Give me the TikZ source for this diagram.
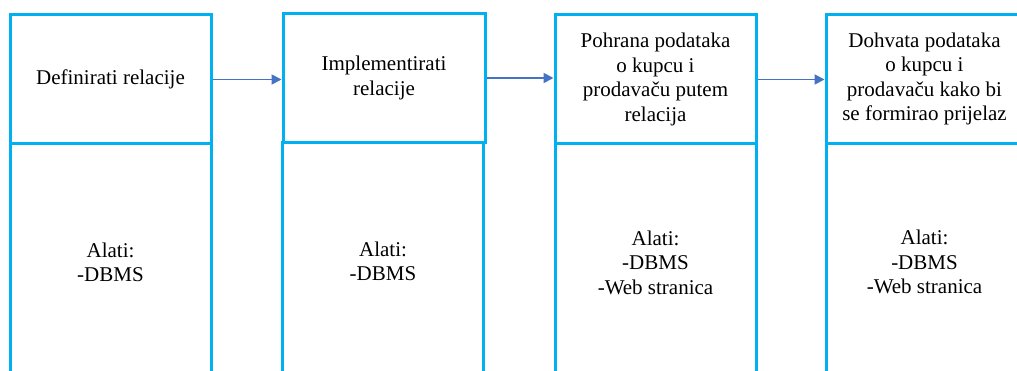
\documentclass[tikz,border=0pt]{standalone}
\usepackage{fontspec}
\setmainfont{Liberation Serif}
\usetikzlibrary{arrows.meta}
\definecolor{boxblue}{HTML}{00B0F0}
\definecolor{arrblue}{HTML}{4472C4}
\begin{document}
\begin{tikzpicture}[x=1pt,y=-1pt,
  topbox/.style={draw=boxblue, line width=3pt, minimum width=201pt, minimum height=129pt, inner sep=0pt, align=center, font=\rmfamily\fontsize{21}{24.5}\selectfont},
  botbox/.style={draw=boxblue, line width=3pt, minimum width=201pt, minimum height=237pt, inner sep=0pt, align=center, font=\rmfamily\fontsize{21}{24.5}\selectfont},
  flow/.style={draw=arrblue, line width=1.8pt, -{Triangle[length=10pt,width=10pt]}}]
\useasboundingbox (0,0) rectangle (1017,371);
\clip (0,0) rectangle (1017,371);
\fill[white] (0,0) rectangle (1017,371);
% column 1
\node[topbox] (t1) at (110.5,79.5) {Definirati relacije};
\node[botbox] (b1) at (110.5,262.5) {Alati:\\-DBMS};
% column 2
\node[topbox, minimum width=202pt] (t2) at (384,78) {Implementirati\\relacije};
\node[botbox] (b2) at (383,261.5) {Alati:\\-DBMS};
% column 3
\node[topbox] (t3) at (655.5,79.5) {Pohrana podataka\\o kupcu i\\prodavaču putem\\relacija};
\node[botbox] (b3) at (655.5,262.5) {Alati:\\-DBMS\\-Web stranica};
% column 4
\node[topbox, minimum width=197pt] (t4) at (924.5,79) {Dohvata podataka\\o kupcu i\\prodavaču kako bi\\se formirao prijelaz};
\node[botbox, minimum width=197pt] (b4) at (924.5,262) {Alati:\\-DBMS\\-Web stranica};
% arrows
\draw[flow] (t1.east) -- (t1.east -| t2.west);
\draw[flow] (t2.east) -- (t2.east -| t3.west);
\draw[flow] (t3.east) -- (t3.east -| t4.west);
\end{tikzpicture}
\end{document}
